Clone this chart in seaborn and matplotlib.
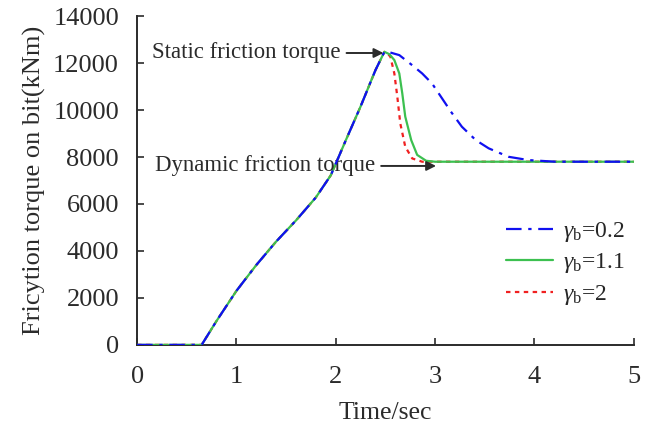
import matplotlib
matplotlib.use("Agg")
import matplotlib.pyplot as plt
import seaborn as sns
import pandas as pd

# Shared loading phase (torque builds up until the bit breaks free)
rise_t = [0.0, 0.65, 0.8, 1.0, 1.2, 1.4, 1.6, 1.8, 1.95, 2.1, 2.25, 2.4, 2.49]
rise_v = [0, 0, 1020, 2300, 3400, 4400, 5300, 6280, 7220, 8700, 10150, 11700, 12480]

# Transition from static to dynamic friction for each damping factor
blue_t = [2.55, 2.64, 2.77, 2.87, 2.97, 3.07, 3.16, 3.27, 3.41, 3.54, 3.74, 3.94, 4.21, 5.0]
blue_v = [12450, 12340, 11910, 11560, 11130, 10500, 9930, 9290, 8720, 8370, 8010, 7870, 7800, 7800]

green_t = [2.54, 2.59, 2.64, 2.67, 2.70, 2.76, 2.82, 2.91, 3.0, 5.0]
green_v = [12380, 12130, 11560, 10710, 9720, 8720, 8090, 7840, 7800, 7800]

red_t = [2.52, 2.55, 2.59, 2.62, 2.65, 2.70, 2.77, 2.87, 5.0]
red_v = [12420, 12270, 11560, 10570, 9430, 8440, 7940, 7800, 7800]

labels = [r"$\gamma_{\mathrm{b}}$=0.2", r"$\gamma_{\mathrm{b}}$=1.1", r"$\gamma_{\mathrm{b}}$=2"]
colors = ["#1010f0", "#3cc050", "#f02020"]

x_ticks = [0, 1, 2, 3, 4, 5]
y_ticks = [0, 2000, 4000, 6000, 8000, 10000, 12000, 14000]

frames = []
for lab, tt, vv in zip(labels, [blue_t, green_t, red_t], [blue_v, green_v, red_v]):
    frames.append(pd.DataFrame({"t": rise_t + tt, "v": rise_v + vv, "case": lab}))
df = pd.concat(frames, ignore_index=True)

sns.set_style("ticks")
plt.rcParams["font.family"] = ["Liberation Serif", "DejaVu Serif"]
plt.rcParams["mathtext.fontset"] = "custom"
plt.rcParams["mathtext.rm"] = "Liberation Serif"
plt.rcParams["mathtext.it"] = "Liberation Serif:italic"

ink = "#2b2b2b"
fig = plt.figure(figsize=(6.72, 4.36), dpi=100)
ax = fig.add_axes([0.204, 0.209, 0.739, 0.754])

dash_map = {labels[0]: (7, 3, 1.5, 3), labels[1]: "", labels[2]: (2, 2)}
sns.lineplot(data=df, x="t", y="v", hue="case", style="case",
             palette=dict(zip(labels, colors)), dashes=dash_map,
             hue_order=labels, style_order=labels, linewidth=1.6,
             estimator=None, sort=False, ax=ax)

# blue over green over red along the shared rising branch
for line, z in zip(ax.lines[:3], [4, 3, 2]):
    line.set_zorder(z)

ax.set_xlim(0, 5)
ax.set_ylim(0, 14000)
ax.set_xticks(x_ticks)
ax.set_yticks(y_ticks)
ax.tick_params(direction="in", length=5, width=1.2, colors=ink,
               labelsize=19)
ax.tick_params(axis="y", pad=13)
ax.tick_params(axis="x", pad=15)
for s in ["top", "right"]:
    ax.spines[s].set_visible(False)
for s in ["left", "bottom"]:
    ax.spines[s].set_color(ink)
    ax.spines[s].set_linewidth(1.4)

ax.set_xlabel("Time/sec", fontsize=18.5, color=ink, labelpad=10)
ax.set_ylabel("Fricytion torque on bit(kNm)", fontsize=19, color=ink, labelpad=5)

arrow = dict(arrowstyle="-|>", color=ink, lw=1.4, mutation_scale=14,
             shrinkA=2, shrinkB=0)
ax.annotate("Static friction torque", xy=(2.48, 12430), xytext=(0.15, 12430),
            fontsize=16.4, color=ink, va="center", ha="left", arrowprops=arrow)
ax.annotate("Dynamic friction torque", xy=(3.01, 7620), xytext=(0.18, 7620),
            fontsize=16.4, color=ink, va="center", ha="left", arrowprops=arrow)

ax.legend(loc="upper left", bbox_to_anchor=(0.70, 0.445), frameon=False,
          fontsize=17, handlelength=2.0, handletextpad=0.4,
          labelspacing=0.32, title=None)

fig.savefig("out.png", dpi=100)
